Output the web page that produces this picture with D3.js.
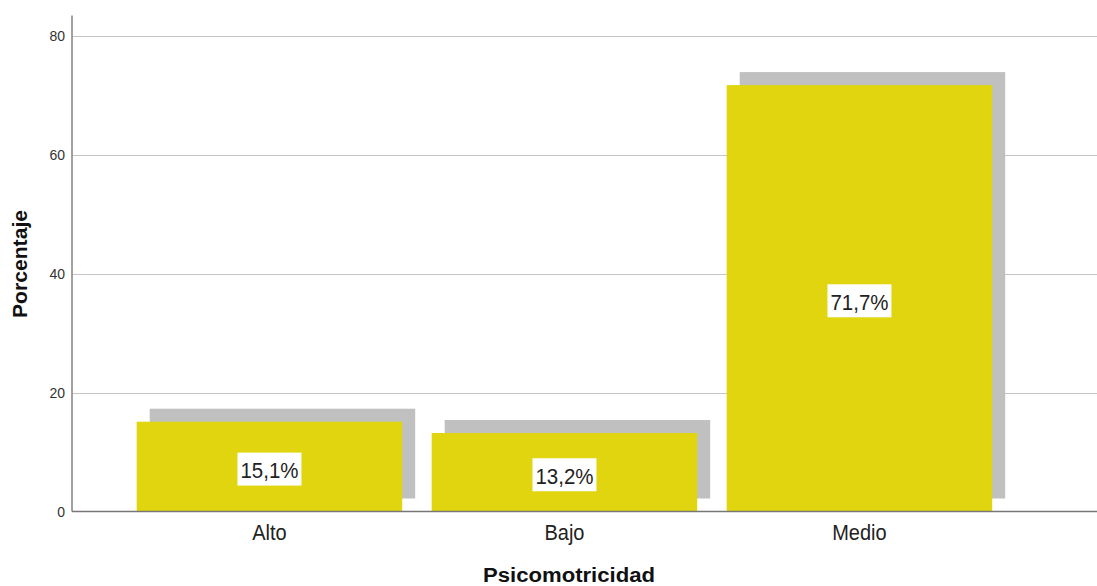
<!DOCTYPE html>
<html>
<head>
<meta charset="utf-8">
<script src="https://cdn.jsdelivr.net/npm/d3@7"></script>
<style>
  html, body { margin: 0; padding: 0; background: #fff; }
  svg { display: block; font-family: "Liberation Sans", Arial, sans-serif; }
</style>
</head>
<body>
<svg id="chart" width="1097" height="586"></svg>
<script>
const categories = ["Alto", "Bajo", "Medio"];
const values = [15.1, 13.2, 71.7];
const valueLabels = ["15,1%", "13,2%", "71,7%"];
const yTicks = [0, 20, 40, 60, 80];
const xTitle = "Psicomotricidad";
const yTitle = "Porcentaje";

const svg = d3.select("#chart");
const W = 1097, H = 586;
const axisX = 72;

const y = d3.scaleLinear().domain([0, 83.4]).range([511.5, 15.5]);
const x = d3.scaleBand().domain(categories)
  .range([107.2, 1021.7]).paddingInner(0.1).paddingOuter(0.1);

const shadowOff = 13;

// gridlines
svg.append("g").selectAll("line").data(yTicks.filter(d => d > 0)).join("line")
  .attr("x1", axisX).attr("x2", W)
  .attr("y1", d => Math.round(y(d)) + 0.5).attr("y2", d => Math.round(y(d)) + 0.5)
  .attr("stroke", "#c4c4c4").attr("stroke-width", 1.2);

// y tick labels
svg.append("g").selectAll("text").data(yTicks).join("text")
  .attr("x", 65).attr("y", d => y(d) + 5)
  .attr("text-anchor", "end").attr("font-size", 14).attr("fill", "#333")
  .text(d => d);

// shadows
svg.append("g").selectAll("rect").data(values).join("rect")
  .attr("x", (d, i) => x(categories[i]) + shadowOff)
  .attr("y", d => y(d) - shadowOff)
  .attr("width", x.bandwidth())
  .attr("height", d => y(0) - y(d))
  .attr("fill", "#c0c0c0");

// bars
svg.append("g").selectAll("rect").data(values).join("rect")
  .attr("x", (d, i) => x(categories[i]))
  .attr("y", d => y(d))
  .attr("width", x.bandwidth())
  .attr("height", d => y(0) - y(d))
  .attr("fill", "#e0d50e");

// value labels
const lab = svg.append("g").selectAll("g").data(values).join("g")
  .attr("transform", (d, i) => `translate(${x(categories[i]) + x.bandwidth() / 2},${(y(d) + y(0)) / 2 + 2.5})`);
lab.append("rect").attr("x", -32).attr("y", -16.5).attr("width", 64).attr("height", 33).attr("fill", "#fff");
lab.append("text").attr("text-anchor", "middle").attr("y", 8)
  .attr("font-size", 20.5).attr("fill", "#222")
  .attr("transform", "scale(1,1.12)")
  .text((d, i) => valueLabels[i]);

// axes lines
svg.append("line").attr("x1", axisX).attr("x2", axisX).attr("y1", y.range()[1]).attr("y2", y(0))
  .attr("stroke", "#8a8a8a").attr("stroke-width", 1.6);
svg.append("line").attr("x1", axisX).attr("x2", W).attr("y1", y(0)).attr("y2", y(0))
  .attr("stroke", "#777").attr("stroke-width", 1.4);

// category labels
svg.append("g").selectAll("text").data(categories).join("text")
  .attr("transform", d => `translate(${x(d) + x.bandwidth() / 2},540) scale(1,1.1)`)
  .attr("text-anchor", "middle").attr("font-size", 20).attr("fill", "#222")
  .text(d => d);

// axis titles
svg.append("text").attr("x", 569).attr("y", 581.5).attr("text-anchor", "middle")
  .attr("font-size", 20).attr("font-weight", "bold").attr("fill", "#111")
  .attr("textLength", 172).attr("lengthAdjust", "spacingAndGlyphs")
  .text(xTitle);
svg.append("text").attr("transform", "translate(27,264) rotate(-90)")
  .attr("text-anchor", "middle")
  .attr("font-size", 19.5).attr("font-weight", "bold").attr("fill", "#111")
  .attr("textLength", 108).attr("lengthAdjust", "spacingAndGlyphs")
  .text(yTitle);
</script>
</body>
</html>
